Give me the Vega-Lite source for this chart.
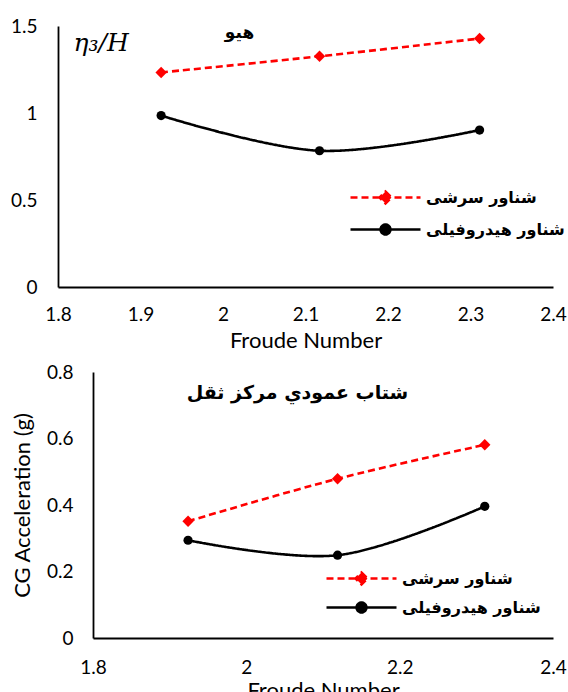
{
  "$schema": "https://vega.github.io/schema/vega-lite/v6.json",
  "background": "white",
  "padding": {"left": 10, "top": 17, "right": 0, "bottom": 0},
  "spacing": 12,
  "datasets": {
    "top": [
      {"froude": 1.925, "value": 1.233, "series": "شناور سرشی"},
      {"froude": 2.117, "value": 1.326, "series": "شناور سرشی"},
      {"froude": 2.311, "value": 1.428, "series": "شناور سرشی"},
      {"froude": 1.925, "value": 0.985, "series": "شناور هیدروفیلی"},
      {"froude": 2.117, "value": 0.783, "series": "شناور هیدروفیلی"},
      {"froude": 2.311, "value": 0.902, "series": "شناور هیدروفیلی"}
    ],
    "bottom": [
      {"froude": 1.924, "value": 0.351, "series": "شناور سرشی"},
      {"froude": 2.119, "value": 0.479, "series": "شناور سرشی"},
      {"froude": 2.311, "value": 0.581, "series": "شناور سرشی"},
      {"froude": 1.924, "value": 0.294, "series": "شناور هیدروفیلی"},
      {"froude": 2.119, "value": 0.249, "series": "شناور هیدروفیلی"},
      {"froude": 2.311, "value": 0.396, "series": "شناور هیدروفیلی"}
    ]
  },
  "vconcat": [
    {
      "width": 495,
      "height": 261,
      "data": {"name": "top"},
      "title": {"text": "هیو", "font": "DejaVu Sans", "fontSize": 17, "fontWeight": "bold", "color": "black", "anchor": "middle", "dx": -66, "dy": 33, "offset": 0, "baseline": "middle"},
      "encoding": {
        "x": {"field": "froude", "type": "quantitative", "scale": {"domain": [1.8, 2.4], "nice": false, "zero": false},
              "axis": {"title": "Froude Number", "values": [1.8, 1.9, 2, 2.1, 2.2, 2.3, 2.4], "format": "~g", "labelFlush": false, "labelPadding": 18, "titlePadding": 6, "titleFontSize": 22}},
        "y": {"field": "value", "type": "quantitative", "scale": {"domain": [0, 1.5], "nice": false},
              "axis": {"title": "η₃/H", "values": [0, 0.5, 1, 1.5], "format": "~g", "labelPadding": 21, "titleAngle": 0, "titleX": 15, "titleY": 16, "titleAlign": "left", "titleBaseline": "middle", "titleFont": "DejaVu Serif", "titleFontStyle": "italic", "titleFontSize": 25}}
      },
      "layer": [
        {"mark": {"type": "line", "interpolate": "catmull-rom", "strokeWidth": 2.6},
         "encoding": {
           "color": {"field": "series", "type": "nominal", "scale": {"domain": ["شناور سرشی", "شناور هیدروفیلی"], "range": ["#ff0000", "#000000"]},
             "legend": {"orient": "none", "legendX": 291, "legendY": 163, "title": null, "padding": 0, "rowPadding": 15, "clipHeight": 17,
               "labelFont": "DejaVu Sans", "labelFontSize": 16, "labelFontWeight": "bold", "labelColor": "black", "labelOffset": 4,
               "symbolSize": 4900, "symbolStrokeWidth": 2.6,
               "encode": {"symbols": {"update": {
                 "shape": {"signal": "datum.value === 'شناور سرشی' ? 'M-1,0H1M0,-0.17L0.17,0L0,0.17L-0.17,0Z' : 'M-1,0H1M-0.14,0A0.14,0.14,0,1,0,0.14,0A0.14,0.14,0,1,0,-0.14,0Z'"},
                 "fill": {"signal": "datum.value === 'شناور سرشی' ? '#ff0000' : '#000000'"},
                 "stroke": {"signal": "datum.value === 'شناور سرشی' ? '#ff0000' : '#000000'"},
                 "strokeDash": {"signal": "datum.value === 'شناور سرشی' ? [7, 4] : [1, 0]"},
                 "opacity": {"value": 1}
               }}}
             }},
           "strokeDash": {"field": "series", "type": "nominal", "scale": {"domain": ["شناور سرشی", "شناور هیدروفیلی"], "range": [[7, 4], [1, 0]]}, "legend": null}
         }},
        {"transform": [{"filter": "datum.series === 'شناور سرشی'"}],
         "mark": {"type": "point", "shape": "diamond", "filled": true, "opacity": 1, "size": 130, "color": "#ff0000"}},
        {"transform": [{"filter": "datum.series === 'شناور هیدروفیلی'"}],
         "mark": {"type": "point", "shape": "circle", "filled": true, "opacity": 1, "size": 85, "color": "#000000"}}
      ]
    },
    {
      "width": 495,
      "height": 266,
      "data": {"name": "bottom"},
      "title": {"text": "شتاب عمودي مرکز ثقل", "font": "DejaVu Sans", "fontSize": 19, "fontWeight": "bold", "color": "black", "anchor": "middle", "dx": -8, "dy": 49, "offset": 0, "baseline": "middle"},
      "encoding": {
        "x": {"field": "froude", "type": "quantitative", "scale": {"domain": [1.8, 2.4], "range": [35, 495], "nice": false, "zero": false},
              "axis": {"title": "Froude Number", "values": [1.8, 2, 2.2, 2.4], "format": "~g", "labelFlush": false, "labelPadding": 20, "titlePadding": 3, "titleFontSize": 22}},
        "y": {"field": "value", "type": "quantitative", "scale": {"domain": [0, 0.8], "nice": false},
              "axis": {"title": "CG Acceleration (g)", "values": [0, 0.2, 0.4, 0.6, 0.8], "format": "~g", "offset": -35, "labelPadding": 20, "titlePadding": 12, "titleFontSize": 22}}
      },
      "layer": [
        {"mark": {"type": "line", "interpolate": "catmull-rom", "strokeWidth": 2.6},
         "encoding": {
           "color": {"field": "series", "type": "nominal", "scale": {"domain": ["شناور سرشی", "شناور هیدروفیلی"], "range": ["#ff0000", "#000000"]},
             "legend": {"orient": "none", "legendX": 267, "legendY": 198, "title": null, "padding": 0, "rowPadding": 12, "clipHeight": 17,
               "labelFont": "DejaVu Sans", "labelFontSize": 16, "labelFontWeight": "bold", "labelColor": "black", "labelOffset": 4,
               "symbolSize": 4900, "symbolStrokeWidth": 2.6,
               "encode": {"symbols": {"update": {
                 "shape": {"signal": "datum.value === 'شناور سرشی' ? 'M-1,0H1M0,-0.17L0.17,0L0,0.17L-0.17,0Z' : 'M-1,0H1M-0.14,0A0.14,0.14,0,1,0,0.14,0A0.14,0.14,0,1,0,-0.14,0Z'"},
                 "fill": {"signal": "datum.value === 'شناور سرشی' ? '#ff0000' : '#000000'"},
                 "stroke": {"signal": "datum.value === 'شناور سرشی' ? '#ff0000' : '#000000'"},
                 "strokeDash": {"signal": "datum.value === 'شناور سرشی' ? [7, 4] : [1, 0]"},
                 "opacity": {"value": 1}
               }}}
             }},
           "strokeDash": {"field": "series", "type": "nominal", "scale": {"domain": ["شناور سرشی", "شناور هیدروفیلی"], "range": [[7, 4], [1, 0]]}, "legend": null}
         }},
        {"transform": [{"filter": "datum.series === 'شناور سرشی'"}],
         "mark": {"type": "point", "shape": "diamond", "filled": true, "opacity": 1, "size": 130, "color": "#ff0000"}},
        {"transform": [{"filter": "datum.series === 'شناور هیدروفیلی'"}],
         "mark": {"type": "point", "shape": "circle", "filled": true, "opacity": 1, "size": 85, "color": "#000000"}}
      ]
    }
  ],
  "resolve": {"scale": {"color": "independent", "strokeDash": "independent", "x": "independent", "y": "independent"}, "legend": {"color": "independent"}},
  "config": {
    "view": {"stroke": null},
    "axis": {"grid": false, "ticks": false, "tickSize": 0, "domainColor": "#000000", "domainWidth": 1.8,
             "labelFont": "Lato", "labelFontSize": 19, "labelColor": "#000000",
             "titleFont": "Lato", "titleFontWeight": "normal", "titleColor": "#000000"}
  }
}
